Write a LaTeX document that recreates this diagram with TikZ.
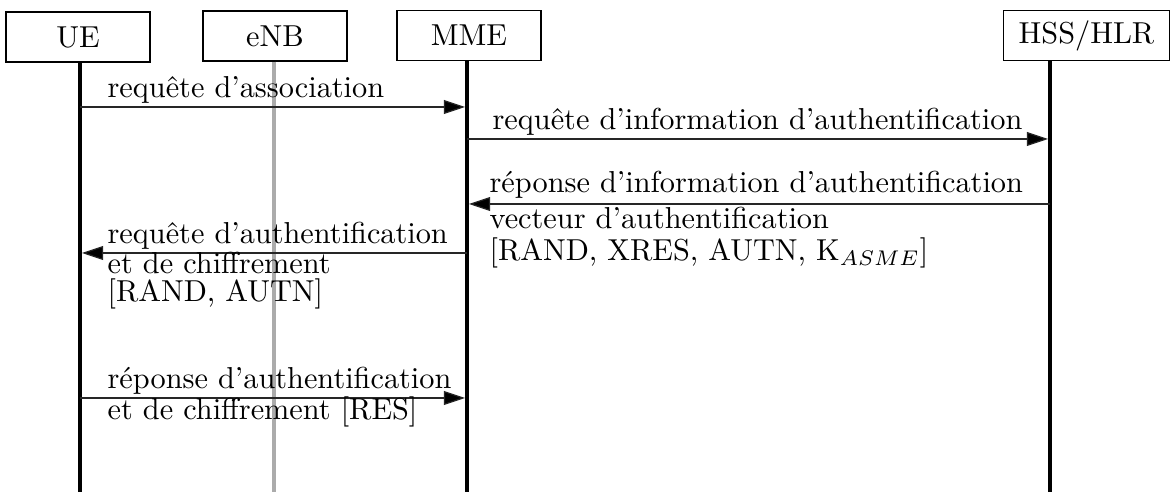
\documentclass[tikz,border=0pt]{standalone}
\usepackage{fontspec}
\usetikzlibrary{arrows.meta}
\begin{document}
\begin{tikzpicture}[x=0.33pt,y=-0.33pt,
  actor/.style={draw,line width=0.45pt,minimum height=16.5pt,minimum width=47.5pt,inner sep=3pt,font=\fontsize{10pt}{12pt}\selectfont},
  life/.style={line width=1.3pt,black},
  lifegray/.style={line width=1.3pt,black!33},
  msg/.style={line width=0.4pt,black!85,-{Triangle[length=7pt,width=4.6pt,fill=black]},shorten >=0.65pt},
  lbl/.style={inner sep=0pt,anchor=base west,font=\fontsize{10pt}{12pt}\selectfont}]
\useasboundingbox (0,0) rectangle (1171,492);
% actors
\node[actor] (ue) at (78,37) {UE};
\node[actor] (enb) at (275,36) {eNB};
\node[actor] (mme) at (469,35.5) {MME};
\node[actor,minimum width=54.8pt] (hss) at (1086.5,35.5) {HSS/HLR};
% lifeline ends
\coordinate (ueB) at (80,492);
\coordinate (enbB) at (274,492);
\coordinate (mmeB) at (467,492);
\coordinate (hssB) at (1050,492);
\draw[lifegray] (enb.south -| enbB) -- (enbB);
\draw[life] (ue.south -| ueB) -- (ueB);
\draw[life] (mme.south -| mmeB) -- (mmeB);
\draw[life] (hss.south -| hssB) -- (hssB);
% message end points
\coordinate (m1a) at (80,107);   \coordinate (m1b) at (467,107);
\coordinate (m2a) at (467,139);  \coordinate (m2b) at (1050,139);
\coordinate (m3a) at (1050,204); \coordinate (m3b) at (467,204);
\coordinate (m4a) at (467,253);  \coordinate (m4b) at (80,253);
\coordinate (m5a) at (80,398);   \coordinate (m5b) at (467,398);
\draw[msg] (m1a) -- (m1b);
\draw[msg] (m2a) -- (m2b);
\draw[msg] (m3a) -- (m3b);
\draw[msg] (m4a) -- (m4b);
\draw[msg] (m5a) -- (m5b);
% labels
\node[lbl] (t1) at (107,98) {requête d'association};
\node[lbl] (t2) at (492,130) {requête d'information d'authentification};
\node[lbl] (t3) at (489,193) {réponse d'information d'authentification};
\node[lbl] (t3b) at (489,229) {vecteur d'authentification};
\node[lbl] (t3c) at (489,261) {[RAND, XRES, AUTN, K$_{ASME}$]};
\node[lbl] (t4) at (107,244) {requête d'authentification};
\node[lbl] (t4b) at (107,274) {et de chiffrement};
\node[lbl] (t4c) at (107,302) {[RAND, AUTN]};
\node[lbl] (t5) at (107,389) {réponse d'authentification};
\node[lbl] (t5b) at (107,420) {et de chiffrement [RES]};
\end{tikzpicture}
\end{document}
